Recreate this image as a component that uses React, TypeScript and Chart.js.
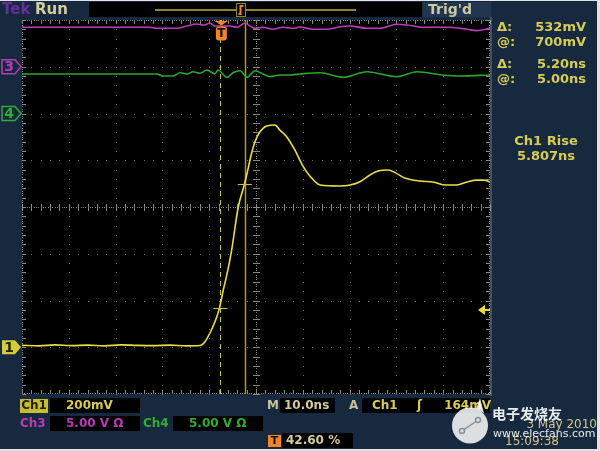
import React, { useEffect, useRef } from "react";
import { Chart, registerables } from "chart.js";

Chart.register(...registerables);

// ---------------- data ----------------
// Ch1 (200 mV/div), time in ns relative to trigger
const ch1Time = [-42.6, -39.0, -35.5, -32.0, -28.5, -25.0, -21.5, -18.0, -14.5, -11.0, -7.5, -4.57, -3.5, -2.44, -1.37, -0.45, 0.41, 1.26, 2.2, 3.61, 4.89, 5.41, 6.47, 7.18, 8.25, 9.68, 11.45, 12.5, 13.95, 15.7, 17.4, 18.9, 21.1, 25.3, 27.5, 29.6, 31.75, 33.5, 35.6, 37.3, 39.2, 42.4, 45.2, 48.0, 50.3, 52.5, 54.6, 56.1, 57.4];
const ch1Volts = [0.008, 0.006, 0.010, 0.007, 0.009, 0.006, 0.010, 0.008, 0.007, 0.009, 0.006, 0.0075, 0.024, 0.061, 0.109, 0.164, 0.245, 0.318, 0.416, 0.600, 0.694, 0.737, 0.831, 0.879, 0.922, 0.947, 0.951, 0.929, 0.901, 0.844, 0.776, 0.733, 0.694, 0.690, 0.694, 0.708, 0.737, 0.754, 0.758, 0.745, 0.724, 0.711, 0.707, 0.694, 0.694, 0.707, 0.715, 0.715, 0.707];

// Ch3 (5 V/div)
const ch3Time = [-42.6, -26.0, -15.3, -13.8, -9.5, -7.35, -5.2, -3.9, -2.4, -1.4, 1.8, 3.3, 5.0, 7.2, 8.9, 11.0, 13.2, 15.3, 16.8, 19.5, 22.5, 25.3, 27.4, 31.1, 33.9, 37.5, 39.7, 43.1, 48.2, 52.5, 54.6, 57.4];
const ch3Volts = [4.22, 4.22, 4.22, 4.11, 4.11, 4.36, 4.57, 4.46, 4.65, 4.36, 4.36, 4.22, 4.65, 4.11, 4.22, 4.01, 4.22, 4.11, 4.25, 4.01, 4.01, 4.28, 4.36, 4.11, 4.11, 4.54, 4.46, 4.22, 4.22, 4.01, 3.86, 4.11];

// Ch4 (5 V/div)
const ch4Time = [-42.6, -26.0, -13.8, -12.5, -10.3, -8.8, -7.35, -6.07, -4.57, -3.08, -1.37, -0.73, 1.2, 2.48, 4.0, 5.47, 7.18, 8.89, 10.4, 12.5, 14.6, 16.8, 21.1, 26.0, 31.1, 37.5, 41.8, 47.3, 51.0, 57.4];
const ch4Volts = [4.23, 4.23, 4.23, 4.01, 4.01, 4.36, 4.23, 4.47, 4.30, 4.65, 4.23, 4.65, 3.87, 4.36, 4.58, 3.87, 4.58, 4.23, 3.94, 4.12, 4.12, 4.23, 4.36, 3.87, 4.47, 3.94, 4.47, 4.12, 4.01, 4.12];

// channel settings: volts/div and marker position (div)
const CH1_SCALE = 0.2;
const CH1_POS = -3;
const CH3_SCALE = 5;
const CH3_POS = 3;
const CH4_SCALE = 5;
const CH4_POS = 2;

// horizontal: 10 ns/div, trigger at 42.60 %
const X_MIN = -42.6;
const X_MAX = 57.4;
const Y_MIN = -4;
const Y_MAX = 4;

// cursors and trigger
const cursorTimes = [-0.2, 5.0];
const cursorVolts = [0.168, 0.7];
const TRIG_LEVEL = 0.164;

// readouts
const readoutSymbols = ["Δ:", "@:", "Δ:", "@:"];
const readoutValues = ["532mV", "700mV", "5.20ns", "5.00ns"];
const measureLabel = "Ch1 Rise";
const measureValue = "5.807ns";

// ---------------- styles ----------------
const NAVY = "#17293f";
const YELLOW = "#e8de44";
const READ = "#d9cc52";
const TAN = "#d3cc9c";
const MAGENTA = "#b43cb4";
const GREEN = "#2fae2f";
const ORANGE = "#f0862a";
const FONT = "'DejaVu Sans', sans-serif";

function txt(ctx: CanvasRenderingContext2D, s: string, x: number, y: number, color: string, size: number, align: CanvasTextAlign = "left", weight = "bold", family = FONT) {
  ctx.font = `${weight} ${size}px ${family}`;
  ctx.fillStyle = color;
  ctx.textAlign = align;
  ctx.textBaseline = "middle";
  ctx.fillText(s, x, y);
}

function drawGraticule(ctx: CanvasRenderingContext2D, a: any) {
  const dx = (a.right - a.left) / 10;
  const dy = (a.bottom - a.top) / 8;
  ctx.fillStyle = "#707070";
  for (let i = 1; i < 10; i++) {
    if (i === 5) continue;
    const x = Math.round(a.left + i * dx);
    for (let j = 0; j <= 40; j++) ctx.fillRect(x, Math.round(a.top + (j * dy) / 5), 1, 1);
  }
  for (let j = 1; j < 8; j++) {
    if (j === 4) continue;
    const y = Math.round(a.top + j * dy);
    for (let i = 0; i <= 50; i++) ctx.fillRect(Math.round(a.left + (i * dx) / 5), y, 1, 1);
  }
  const cx = Math.round(a.left + 5 * dx);
  const cy = Math.round(a.top + 4 * dy);
  ctx.fillStyle = "#8e8c78";
  // center lines (dense dots + ticks)
  for (let k = 0; k <= 160; k++) ctx.fillRect(cx, Math.round(a.top + (k * dy) / 20), 1, 1);
  for (let k = 0; k <= 200; k++) ctx.fillRect(Math.round(a.left + (k * dx) / 20), cy, 1, 1);
  for (let k = 0; k <= 40; k++) ctx.fillRect(cx - 3, Math.round(a.top + (k * dy) / 5), 7, 1);
  for (let k = 0; k <= 50; k++) ctx.fillRect(Math.round(a.left + (k * dx) / 5), cy - 3, 1, 7);
  // frame edges
  const l = Math.round(a.left), r = Math.round(a.right) - 1, t = Math.round(a.top), b = Math.round(a.bottom) - 1;
  for (let k = 0; k <= 200; k++) {
    const x = Math.round(a.left + (k * dx) / 20);
    ctx.fillRect(x, t, 1, 1);
    ctx.fillRect(x, b, 1, 1);
  }
  for (let k = 0; k <= 160; k++) {
    const y = Math.round(a.top + (k * dy) / 20);
    ctx.fillRect(l, y, 1, 1);
    ctx.fillRect(r, y, 1, 1);
  }
  for (let k = 0; k <= 50; k++) {
    const x = Math.round(a.left + (k * dx) / 5);
    ctx.fillRect(x, t, 1, 4);
    ctx.fillRect(x, b - 3, 1, 4);
  }
  for (let k = 0; k <= 40; k++) {
    const y = Math.round(a.top + (k * dy) / 5);
    ctx.fillRect(l, y, 4, 1);
    ctx.fillRect(r - 3, y, 4, 1);
  }
}

function drawMarker(ctx: CanvasRenderingContext2D, y: number, color: string, label: string, filled: boolean) {
  ctx.beginPath();
  ctx.moveTo(2, y - 7);
  ctx.lineTo(15, y - 7);
  ctx.lineTo(21, y);
  ctx.lineTo(15, y + 7);
  ctx.lineTo(2, y + 7);
  ctx.closePath();
  if (filled) {
    ctx.fillStyle = color;
    ctx.fill();
    txt(ctx, label, 9, y + 1, "#1e1e04", 14, "center");
  } else {
    ctx.fillStyle = NAVY;
    ctx.fill();
    ctx.strokeStyle = color;
    ctx.lineWidth = 1.5;
    ctx.stroke();
    txt(ctx, label, 9, y + 1, color, 14, "center");
  }
}

const scopePlugin = {
  id: "scope",
  beforeDraw(chart: any) {
    const ctx: CanvasRenderingContext2D = chart.ctx;
    const a = chart.chartArea;
    ctx.save();
    ctx.fillStyle = NAVY;
    ctx.fillRect(0, 0, 600, 451);
    // top bar
    ctx.fillStyle = "#000";
    ctx.fillRect(89, 2, 333, 15);
    ctx.fillStyle = "#22374f";
    ctx.fillRect(423, 2, 68, 15);
    ctx.strokeStyle = "#8e8428";
    ctx.lineWidth = 2;
    ctx.beginPath();
    ctx.moveTo(155, 10);
    ctx.lineTo(356, 10);
    ctx.stroke();
    // trigger position icon
    ctx.fillStyle = "#000";
    ctx.fillRect(236, 3, 9, 13);
    ctx.strokeStyle = "#8e8428";
    ctx.lineWidth = 1;
    ctx.strokeRect(236.5, 3.5, 9, 13);
    ctx.strokeStyle = ORANGE;
    ctx.lineWidth = 2;
    ctx.beginPath();
    ctx.moveTo(238.5, 14);
    ctx.lineTo(240.5, 14);
    ctx.lineTo(240.5, 6);
    ctx.lineTo(243.5, 6);
    ctx.stroke();
    // plot area
    ctx.fillStyle = "#000";
    ctx.fillRect(a.left, a.top, a.right - a.left, a.bottom - a.top);
    // right separator
    ctx.fillStyle = "#3e536b";
    ctx.fillRect(a.right, 17, 2, a.bottom - 17 + 2);
    drawGraticule(ctx, a);
    // bottom boxes
    ctx.fillStyle = "#000";
    ctx.fillRect(50, 398, 90, 15);
    ctx.fillRect(50, 416, 90, 15);
    ctx.fillRect(173, 416, 90, 15);
    ctx.fillRect(280, 398, 55, 15);
    ctx.fillRect(362, 398, 128, 15);
    ctx.fillRect(282, 433, 71, 15);
    ctx.fillStyle = "#c9bd2e";
    ctx.fillRect(20, 399, 28, 14);
    ctx.fillStyle = ORANGE;
    ctx.fillRect(268, 435, 13, 12);
    // light image border
    ctx.fillStyle = "#dfe4ea";
    ctx.fillRect(0, 0, 600, 1);
    ctx.fillRect(597, 0, 3, 451);
    ctx.fillRect(0, 449, 600, 2);
    ctx.restore();
  },
  beforeDatasetsDraw(chart: any) {
    const ctx: CanvasRenderingContext2D = chart.ctx;
    const a = chart.chartArea;
    const xs = chart.scales.x;
    ctx.save();
    const c1 = Math.round(xs.getPixelForValue(cursorTimes[0])) + 0.5;
    ctx.strokeStyle = "#cdbf34";
    ctx.lineWidth = 1;
    ctx.setLineDash([5, 4]);
    ctx.beginPath();
    ctx.moveTo(c1, a.top);
    ctx.lineTo(c1, a.bottom);
    ctx.stroke();
    ctx.setLineDash([]);
    const c2 = Math.round(xs.getPixelForValue(cursorTimes[1])) + 0.5;
    ctx.strokeStyle = "#a89c28";
    ctx.lineWidth = 1.5;
    ctx.beginPath();
    ctx.moveTo(c2, a.top);
    ctx.lineTo(c2, a.bottom);
    ctx.stroke();
    ctx.restore();
  },
  afterDatasetsDraw(chart: any) {
    const ctx: CanvasRenderingContext2D = chart.ctx;
    const a = chart.chartArea;
    const xs = chart.scales.x;
    const ys = chart.scales.y;
    ctx.save();
    // cursor crosses on trace
    ctx.strokeStyle = "#cdbf34";
    ctx.lineWidth = 1;
    for (let i = 0; i < cursorTimes.length; i++) {
      const x = xs.getPixelForValue(cursorTimes[i]);
      const y = Math.round(ys.getPixelForValue(cursorVolts[i] / CH1_SCALE + CH1_POS)) + 0.5;
      ctx.beginPath();
      ctx.moveTo(x - 7, y);
      ctx.lineTo(x + 7, y);
      ctx.stroke();
    }
    // trigger T marker
    const tx = xs.getPixelForValue(0);
    ctx.fillStyle = ORANGE;
    ctx.beginPath();
    ctx.moveTo(tx - 6.5, a.top + 1);
    ctx.lineTo(tx + 6.5, a.top + 1);
    ctx.lineTo(tx, a.top + 5.5);
    ctx.closePath();
    ctx.fill();
    ctx.beginPath();
    (ctx as any).roundRect(tx - 5.5, a.top + 6.5, 11, 14, 3);
    ctx.fill();
    txt(ctx, "T", tx, a.top + 14, "#1a1000", 12, "center");
    // trigger level arrow
    const ty = ys.getPixelForValue(TRIG_LEVEL / CH1_SCALE + CH1_POS) + 1;
    ctx.fillStyle = YELLOW;
    ctx.beginPath();
    ctx.moveTo(a.right - 12, ty);
    ctx.lineTo(a.right - 5, ty - 5);
    ctx.lineTo(a.right - 5, ty + 5);
    ctx.closePath();
    ctx.fill();
    ctx.fillRect(a.right - 6, ty - 1, 6, 2);
    // channel markers
    drawMarker(ctx, ys.getPixelForValue(CH3_POS), MAGENTA, "3", false);
    drawMarker(ctx, ys.getPixelForValue(CH4_POS), GREEN, "4", false);
    drawMarker(ctx, ys.getPixelForValue(CH1_POS), "#d6cb34", "1", true);
    ctx.restore();
  },
  afterDraw(chart: any) {
    const ctx: CanvasRenderingContext2D = chart.ctx;
    ctx.save();
    // header
    txt(ctx, "Tek", 2, 10, "#6a2c9c", 15);
    txt(ctx, "Run", 35, 10, TAN, 15);
    txt(ctx, "Trig'd", 428, 10, "#cdc79e", 14);
    // readouts
    const ry = [28, 43, 65, 80];
    for (let i = 0; i < ry.length; i++) {
      txt(ctx, readoutSymbols[i], 497, ry[i], READ, 13);
      txt(ctx, readoutValues[i], 586, ry[i], READ, 13, "right");
    }
    txt(ctx, measureLabel, 546, 142, READ, 13, "center");
    txt(ctx, measureValue, 546, 157, READ, 13, "center");
    // bottom status
    txt(ctx, "Ch1", 34, 406, "#1e1e04", 12, "center");
    txt(ctx, "200mV", 66, 406, READ, 12);
    txt(ctx, "Ch3", 20, 424, MAGENTA, 12);
    txt(ctx, "5.00 V Ω", 66, 424, MAGENTA, 12);
    txt(ctx, "Ch4", 143, 424, GREEN, 12);
    txt(ctx, "5.00 V Ω", 189, 424, GREEN, 12);
    txt(ctx, "M", 267, 406, "#c8c298", 12);
    txt(ctx, "10.0ns", 284, 406, TAN, 12);
    txt(ctx, "A", 349, 406, "#c8c298", 12);
    txt(ctx, "Ch1", 372, 406, READ, 12);
    txt(ctx, "ʃ", 417, 406, READ, 12);
    txt(ctx, "164mV", 491, 406, READ, 12, "right");
    txt(ctx, "T", 274.5, 441.5, "#1a1000", 11, "center");
    txt(ctx, "42.60 %", 286, 441, TAN, 12);
    txt(ctx, "3 May 2010", 597, 425, "#cfc68a", 12, "right", "normal");
    txt(ctx, "15:09:38", 505, 442, "#cfc68a", 12, "left", "normal");
    // watermark
    ctx.globalAlpha = 0.85;
    ctx.fillStyle = "#ffffff";
    ctx.beginPath();
    ctx.arc(470, 425.5, 18, 0, Math.PI * 2);
    ctx.fill();
    ctx.beginPath();
    ctx.moveTo(476, 409);
    ctx.lineTo(480, 398);
    ctx.lineTo(484, 413);
    ctx.closePath();
    ctx.fill();
    ctx.globalAlpha = 1;
    ctx.strokeStyle = "#8a8f96";
    ctx.lineWidth = 1.5;
    ctx.beginPath();
    ctx.arc(462, 431, 2.5, 0, Math.PI * 2);
    ctx.stroke();
    ctx.beginPath();
    ctx.arc(478, 420, 2.5, 0, Math.PI * 2);
    ctx.stroke();
    ctx.beginPath();
    ctx.moveTo(464, 429.5);
    ctx.lineTo(476, 421.5);
    ctx.stroke();
    ctx.globalAlpha = 0.9;
    txt(ctx, "电子发烧友", 492, 414, "#ffffff", 14, "left", "bold", "'Noto Sans CJK SC', sans-serif");
    txt(ctx, "www.elecfans.com", 493, 434, "#ffffff", 11, "left", "normal");
    ctx.restore();
  },
};

function series(t: number[], v: number[], scale: number, pos: number, color: string, width: number) {
  return {
    data: t.map((x, i) => ({ x, y: v[i] / scale + pos })),
    borderColor: color,
    borderWidth: width,
    pointRadius: 0,
    fill: false,
    cubicInterpolationMode: "monotone" as const,
  };
}

export default function App() {
  const ref = useRef<HTMLCanvasElement>(null);
  useEffect(() => {
    const canvas = ref.current;
    if (!canvas) return;
    const chart = new Chart(canvas, {
      type: "line",
      data: {
        datasets: [
          series(ch3Time, ch3Volts, CH3_SCALE, CH3_POS, "#bb3cbb", 1.6),
          series(ch4Time, ch4Volts, CH4_SCALE, CH4_POS, "#2aa82a", 1.6),
          series(ch1Time, ch1Volts, CH1_SCALE, CH1_POS, YELLOW, 1.6),
        ] as any,
      },
      options: {
        animation: false,
        responsive: false,
        devicePixelRatio: 1,
        events: [],
        layout: { padding: { left: 22, top: 20, right: 110, bottom: 57 } },
        scales: {
          x: { type: "linear", min: X_MIN, max: X_MAX, display: false },
          y: { type: "linear", min: Y_MIN, max: Y_MAX, display: false },
        },
        plugins: { legend: { display: false }, tooltip: { enabled: false } },
      },
      plugins: [scopePlugin],
    });
    return () => chart.destroy();
  }, []);
  return (
    <div style={{ position: "absolute", left: 0, top: 0, width: 600, height: 451 }}>
      <canvas ref={ref} width={600} height={451} style={{ display: "block" }} />
    </div>
  );
}
